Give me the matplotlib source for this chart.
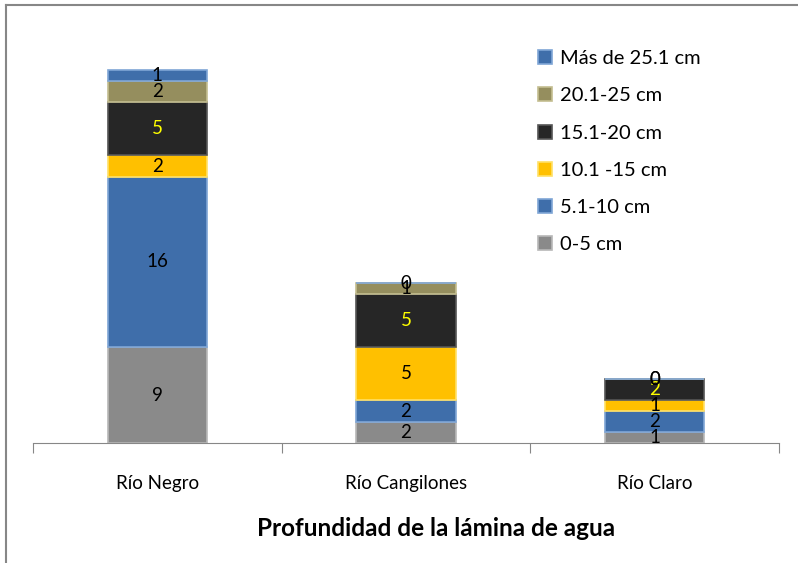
import matplotlib
matplotlib.use("Agg")
import matplotlib.pyplot as plt
import numpy as np

plt.rcParams['font.family'] = ['Lato', 'DejaVu Sans']

categories = ["Río Negro", "Río Cangilones", "Río Claro"]
series_names = ["0-5 cm", "5.1-10 cm", "10.1 -15 cm", "15.1-20 cm", "20.1-25 cm", "Más de 25.1 cm"]
v_0_5 = [9, 2, 1]
v_5_10 = [16, 2, 2]
v_10_15 = [2, 5, 1]
v_15_20 = [5, 5, 2]
v_20_25 = [2, 1, 0]
v_25_plus = [1, 0, 0]
series_values = [v_0_5, v_5_10, v_10_15, v_15_20, v_20_25, v_25_plus]

colors = ["#8a8a8a", "#3f6eaa", "#ffc000", "#262626", "#958e5e", "#3f6eaa"]
edge_colors = ["#b8b8b8", "#7fa6d6", "#ffe066", "#555555", "#c3bd90", "#7fa6d6"]
label_colors = ["black", "black", "black", "#ffff00", "black", "black"]

W, H = 798, 563
fig = plt.figure(figsize=(W / 100, H / 100), dpi=100)

# frame lines (chart area border)
fig.add_artist(plt.Line2D([6 / W, 6 / W], [0, 1 - 5 / H], color="#878787", lw=1.5))
fig.add_artist(plt.Line2D([6 / W, 1], [1 - 5 / H, 1 - 5 / H], color="#878787", lw=1.5))

left, right, bottom, top = 33, 779, 443, 17
ax = fig.add_axes([left / W, 1 - bottom / H, (right - left) / W, (bottom - top) / H])
ax.set_xlim(-0.5, 2.5)
ax.set_ylim(0, 40)

x = np.arange(len(categories))
bw = 0.4
base = np.zeros(len(categories))
for name, vals, c, ec, lc in zip(series_names, series_values, colors, edge_colors, label_colors):
    vals = np.array(vals, dtype=float)
    ax.bar(x, vals, bw, bottom=base, color=c, edgecolor=ec, linewidth=1.2, label=name)
    for xi, b, v in zip(x, base, vals):
        ax.text(xi, b + v / 2, f"{int(v)}", ha="center", va="center", fontsize=13.5, color=lc)
    base = base + vals

for s in ["top", "right", "left"]:
    ax.spines[s].set_visible(False)
ax.spines["bottom"].set_color("#878787")
ax.set_yticks([])
ax.set_xticks([-0.5, 0.5, 1.5, 2.5])
ax.set_xticklabels([])
ax.tick_params(axis="x", length=7, color="#878787")
for xi, cat in zip(x, categories):
    ax.text(xi, -3.8, cat, ha="center", va="center", fontsize=13.5, color="black")
fig.text(436 / W, 1 - 528 / H, "Profundidad de la lámina de agua", ha="center", va="center",
         fontsize=17.5, fontweight="bold", color="black")

handles, labels = ax.get_legend_handles_labels()
fig.legend(handles[::-1], labels[::-1], loc="upper left",
           bbox_to_anchor=(520 / W, 1 - 32 / H), frameon=False,
           fontsize=14.5, handlelength=0.7, handleheight=0.7, handletextpad=0.4,
           labelspacing=1.0)

fig.savefig("out.png", dpi=100)
